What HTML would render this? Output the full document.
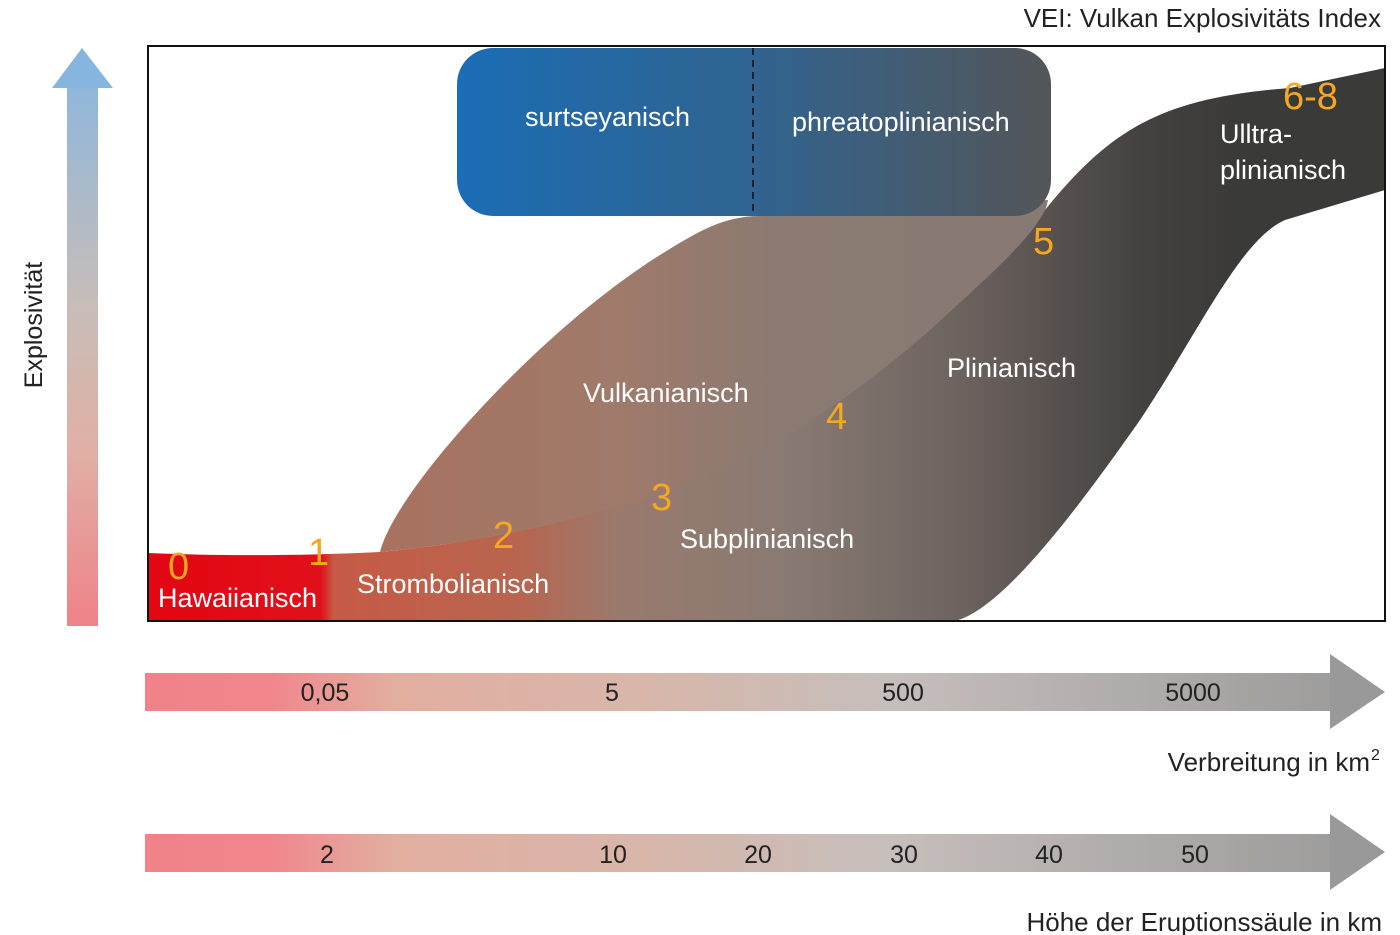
<!DOCTYPE html>
<html><head><meta charset="utf-8"><style>
html,body{margin:0;padding:0;background:#fff;width:1400px;height:935px;overflow:hidden}
svg{display:block}
text{font-family:"Liberation Sans",sans-serif}
</style></head><body>
<svg width="1400" height="935" viewBox="0 0 1400 935" xmlns="http://www.w3.org/2000/svg">
<defs>
<linearGradient id="main" x1="148" y1="0" x2="1385" y2="0" gradientUnits="userSpaceOnUse">
<stop offset="0" stop-color="#e30613"/>
<stop offset="0.14" stop-color="#e0101a"/>
<stop offset="0.15" stop-color="#c65a45"/>
<stop offset="0.30" stop-color="#b8654f"/>
<stop offset="0.38" stop-color="#9a7a6e"/>
<stop offset="0.52" stop-color="#887a72"/>
<stop offset="0.65" stop-color="#6e6460"/>
<stop offset="0.80" stop-color="#454240"/>
<stop offset="0.88" stop-color="#3a3a38"/>
<stop offset="1" stop-color="#3a3a38"/>
</linearGradient>
<linearGradient id="vulk" x1="380" y1="0" x2="1050" y2="0" gradientUnits="userSpaceOnUse">
<stop offset="0" stop-color="#a8725f"/>
<stop offset="0.35" stop-color="#a07a6a"/>
<stop offset="0.6" stop-color="#8a7a72"/>
<stop offset="1" stop-color="#877a72"/>
</linearGradient>
<linearGradient id="blue" x1="457" y1="0" x2="1051" y2="0" gradientUnits="userSpaceOnUse">
<stop offset="0" stop-color="#1b6db5"/>
<stop offset="0.5" stop-color="#30638f"/>
<stop offset="1" stop-color="#545658"/>
</linearGradient>
<linearGradient id="varr" x1="0" y1="625" x2="0" y2="48" gradientUnits="userSpaceOnUse">
<stop offset="0" stop-color="#f0828a"/>
<stop offset="0.3" stop-color="#e0b0a4"/>
<stop offset="0.55" stop-color="#c8bdb8"/>
<stop offset="1" stop-color="#86b6e0"/>
</linearGradient>
<linearGradient id="harr" x1="145" y1="0" x2="1385" y2="0" gradientUnits="userSpaceOnUse">
<stop offset="0" stop-color="#f0828a"/>
<stop offset="0.1" stop-color="#f0868c"/>
<stop offset="0.2" stop-color="#e2aea0"/>
<stop offset="0.4" stop-color="#d8b6aa"/>
<stop offset="0.6" stop-color="#c6bebb"/>
<stop offset="1" stop-color="#999999"/>
</linearGradient>
</defs>

<text x="1381" y="27" font-size="26" fill="#222" text-anchor="end">VEI: Vulkan Explosivitäts Index</text>

<rect x="67" y="86" width="31" height="540" fill="url(#varr)"/>
<polygon points="52,88 113,88 82,48" fill="#86b6e0"/>
<text transform="translate(42,325) rotate(-90)" font-size="25" fill="#222" text-anchor="middle">Explosivität</text>

<path d="M380,552 C395,490 540,330 660,255 C700,230 725,216 760,216 L1048,200 C1040,240 1000,290 900,370 C820,430 720,480 600,515 C520,535 440,546 380,552 Z" fill="url(#vulk)"/>

<path d="M148,553 C220,556 300,556 380,552 C480,542 560,525 640,500 C760,462 850,400 930,330 C990,275 1030,240 1045,210 C1110,130 1160,98 1290,88 L1385,68 L1385,190 L1285,220 C1240,240 1200,330 1140,420 C1070,520 1000,610 955,621 L148,621 Z" fill="url(#main)"/>

<rect x="457" y="48" width="594" height="168" rx="36" fill="url(#blue)"/>
<line x1="753" y1="48" x2="753" y2="216" stroke="#111" stroke-width="1.5" stroke-dasharray="7,5"/>

<rect x="148" y="46" width="1237" height="575" fill="none" stroke="#111" stroke-width="2"/>

<g fill="#fff" font-size="27">
<text x="525" y="126">surtseyanisch</text>
<text x="792" y="131">phreatoplinianisch</text>
<text x="1220" y="143">Ulltra-</text>
<text x="1220" y="179">plinianisch</text>
<text x="583" y="402">Vulkanianisch</text>
<text x="947" y="377">Plinianisch</text>
<text x="680" y="548">Subplinianisch</text>
<text x="357" y="593">Strombolianisch</text>
<text x="158" y="607">Hawaiianisch</text>
</g>
<g fill="#f5a623" font-size="38">
<text x="168" y="579">0</text>
<text x="308" y="565">1</text>
<text x="493" y="548">2</text>
<text x="651" y="510">3</text>
<text x="826" y="429">4</text>
<text x="1033" y="254">5</text>
<text x="1283" y="109">6-8</text>
</g>

<rect x="145" y="673" width="1188" height="38" fill="url(#harr)"/>
<polygon points="1330,654 1330,729 1385,692" fill="#999"/>
<g font-size="25" fill="#222" text-anchor="middle">
<text x="325" y="701">0,05</text>
<text x="612" y="701">5</text>
<text x="903" y="701">500</text>
<text x="1193" y="701">5000</text>
</g>
<text x="1370" y="771" font-size="26" fill="#222" text-anchor="end">Verbreitung in km</text>
<text x="1371" y="760" font-size="16" fill="#222">2</text>

<rect x="145" y="834" width="1188" height="38" fill="url(#harr)"/>
<polygon points="1330,814 1330,890 1385,852" fill="#999"/>
<g font-size="25" fill="#222" text-anchor="middle">
<text x="327" y="863">2</text>
<text x="613" y="863">10</text>
<text x="758" y="863">20</text>
<text x="904" y="863">30</text>
<text x="1049" y="863">40</text>
<text x="1195" y="863">50</text>
</g>
<text x="1382" y="931" font-size="26" fill="#222" text-anchor="end">Höhe der Eruptionssäule in km</text>
</svg>
</body></html>
